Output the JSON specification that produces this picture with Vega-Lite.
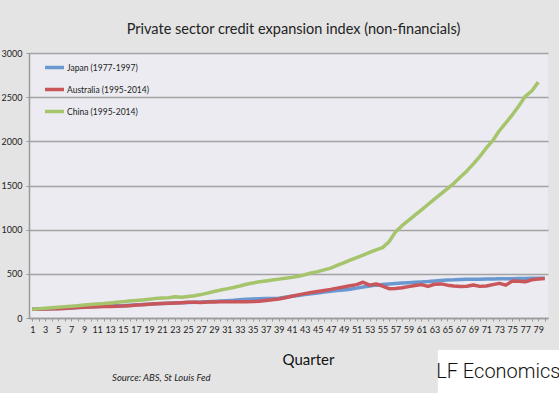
{
  "$schema": "https://vega.github.io/schema/vega-lite/v6.json",
  "width": 519,
  "height": 265,
  "autosize": {"type": "none"},
  "padding": {"left": 29, "top": 53, "right": 11, "bottom": 75},
  "background": "#e4e4e4",
  "title": {"text": "Private sector credit expansion index (non-financials)", "font": "Lato", "fontSize": 14.5, "fontWeight": "normal", "color": "#222222", "anchor": "middle", "offset": 12, "dx": 5},
  "config": {"view": {"fill": "#ebebf1", "stroke": null}, "font": "Lato"},
  "layer": [
    {
      "data": {"values": [
        {"q":1,"J":100,"A":100,"C":100},{"q":2,"J":101,"A":100,"C":104},{"q":3,"J":103,"A":102,"C":110},{"q":4,"J":106,"A":104,"C":116},{"q":5,"J":108,"A":106,"C":122},
        {"q":6,"J":110,"A":108,"C":128},{"q":7,"J":114,"A":112,"C":134},{"q":8,"J":118,"A":118,"C":140},{"q":9,"J":122,"A":122,"C":146},{"q":10,"J":126,"A":125,"C":152},
        {"q":11,"J":129,"A":127,"C":158},{"q":12,"J":132,"A":129,"C":163},{"q":13,"J":135,"A":131,"C":170},{"q":14,"J":138,"A":133,"C":178},{"q":15,"J":140,"A":135,"C":185},
        {"q":16,"J":143,"A":140,"C":192},{"q":17,"J":147,"A":146,"C":199},{"q":18,"J":152,"A":150,"C":205},{"q":19,"J":157,"A":156,"C":212},{"q":20,"J":161,"A":161,"C":220},
        {"q":21,"J":164,"A":165,"C":226},{"q":22,"J":167,"A":168,"C":230},{"q":23,"J":170,"A":171,"C":240},{"q":24,"J":173,"A":174,"C":234},{"q":25,"J":176,"A":177,"C":244},
        {"q":26,"J":178,"A":179,"C":252},{"q":27,"J":180,"A":176,"C":265},{"q":28,"J":184,"A":180,"C":282},{"q":29,"J":188,"A":182,"C":300},{"q":30,"J":192,"A":183,"C":316},
        {"q":31,"J":196,"A":184,"C":330},{"q":32,"J":200,"A":185,"C":345},{"q":33,"J":208,"A":185,"C":362},{"q":34,"J":213,"A":185,"C":382},{"q":35,"J":216,"A":186,"C":396},
        {"q":36,"J":218,"A":190,"C":410},{"q":37,"J":220,"A":198,"C":420},{"q":38,"J":222,"A":206,"C":430},{"q":39,"J":225,"A":216,"C":440},{"q":40,"J":235,"A":230,"C":450},
        {"q":41,"J":245,"A":246,"C":460},{"q":42,"J":255,"A":262,"C":472},{"q":43,"J":265,"A":276,"C":490},{"q":44,"J":274,"A":288,"C":510},{"q":45,"J":284,"A":300,"C":525},
        {"q":46,"J":294,"A":312,"C":545},{"q":47,"J":304,"A":324,"C":565},{"q":48,"J":312,"A":338,"C":595},{"q":49,"J":318,"A":352,"C":625},{"q":50,"J":325,"A":365,"C":655},
        {"q":51,"J":338,"A":378,"C":683},{"q":52,"J":352,"A":405,"C":712},{"q":53,"J":362,"A":372,"C":742},{"q":54,"J":372,"A":385,"C":772},{"q":55,"J":378,"A":362,"C":797},
        {"q":56,"J":385,"A":332,"C":864},{"q":57,"J":390,"A":334,"C":975},{"q":58,"J":395,"A":342,"C":1045},{"q":59,"J":400,"A":355,"C":1105},{"q":60,"J":404,"A":368,"C":1165},
        {"q":61,"J":408,"A":378,"C":1225},{"q":62,"J":412,"A":358,"C":1285},{"q":63,"J":418,"A":382,"C":1345},{"q":64,"J":425,"A":386,"C":1405},{"q":65,"J":430,"A":372,"C":1465},
        {"q":66,"J":432,"A":363,"C":1525},{"q":67,"J":436,"A":356,"C":1595},{"q":68,"J":438,"A":360,"C":1665},{"q":69,"J":440,"A":374,"C":1745},{"q":70,"J":440,"A":358,"C":1830},
        {"q":71,"J":441,"A":362,"C":1925},{"q":72,"J":442,"A":378,"C":2010},{"q":73,"J":443,"A":392,"C":2120},{"q":74,"J":444,"A":372,"C":2210},{"q":75,"J":445,"A":418,"C":2300},
        {"q":76,"J":447,"A":416,"C":2400},{"q":77,"J":448,"A":410,"C":2510},{"q":78,"J":449,"A":432,"C":2570},{"q":79,"J":449,"A":440,"C":2670},{"q":80,"J":450,"A":448}
      ]},
      "transform": [
        {"fold": ["J", "A", "C"], "as": ["code", "value"]},
        {"lookup": "code", "from": {"data": {"values": [
          {"code": "J", "series": "Japan (1977-1997)"},
          {"code": "A", "series": "Australia (1995-2014)"},
          {"code": "C", "series": "China (1995-2014)"}
        ]}, "key": "code", "fields": ["series"]}}
      ],
      "mark": {"type": "line", "strokeWidth": 3.5, "strokeJoin": "round"},
      "encoding": {
        "x": {"field": "q", "type": "ordinal", "sort": "ascending",
          "scale": {"type": "point", "padding": 0.5},
          "axis": {"title": "Quarter", "titleFont": "Lato", "titleFontSize": 15, "titleFontWeight": "normal", "titleColor": "#111111",
            "titleX": 279, "titleY": 41, "titleBaseline": "middle", "titleAnchor": "middle", "titleAlign": "center",
            "labelAngle": 0, "labelExpr": "datum.value % 2 == 1 ? datum.label : ''", "labelFontSize": 9, "labelColor": "#222222",
            "labelOverlap": false, "labelPadding": 4, "tickSize": 3, "tickColor": "#999999", "domainColor": "#999999", "domainWidth": 1.5, "grid": false}},
        "y": {"field": "value", "type": "quantitative",
          "scale": {"domain": [0, 3000], "nice": false},
          "axis": {"title": null, "format": "d", "values": [0, 500, 1000, 1500, 2000, 2500, 3000], "grid": true, "gridColor": "#a3a3a3", "gridWidth": 1.5,
            "domainColor": "#9a9a9a", "domainWidth": 1.5, "tickColor": "#9a9a9a", "tickSize": 3, "labelPadding": 4,
            "labelFontSize": 9, "labelColor": "#222222"}},
        "color": {"field": "series", "type": "nominal",
          "scale": {"domain": ["Japan (1977-1997)", "Australia (1995-2014)", "China (1995-2014)"], "range": ["#6a98d0", "#c9565a", "#a6c46c"]},
          "legend": {"orient": "none", "legendX": 14, "legendY": 3, "title": null, "symbolType": "stroke", "symbolSize": 361,
            "symbolStrokeWidth": 3.5, "labelFontSize": 8.5, "labelFont": "Lato", "labelColor": "#222222", "rowPadding": 3, "labelOffset": 1, "padding": 0}},
        "order": {"field": "q", "type": "quantitative"}
      }
    },
    {
      "data": {"values": [{"note": "Source: ABS, St Louis Fed"}]},
      "mark": {"type": "text", "align": "left", "baseline": "middle", "font": "Lato", "fontSize": 9.5, "fontStyle": "italic", "color": "#222222", "dx": 2},
      "encoding": {
        "x": {"datum": 13, "type": "ordinal"},
        "y": {"datum": -679, "type": "quantitative"},
        "text": {"field": "note"}
      }
    },
    {
      "data": {"values": [{"logo": "LF Economics"}]},
      "mark": {"type": "rect", "color": "#ffffff", "width": 123},
      "encoding": {
        "x": {"datum": 73, "type": "ordinal"},
        "y": {"datum": -362, "type": "quantitative"},
        "y2": {"datum": -849}
      }
    },
    {
      "data": {"values": [{"logo": "LF Economics"}]},
      "mark": {"type": "text", "align": "center", "baseline": "middle", "font": "Roboto", "fontWeight": 300, "fontSize": 20, "color": "#111111", "dx": -1},
      "encoding": {
        "x": {"datum": 73, "type": "ordinal"},
        "y": {"datum": -611, "type": "quantitative"},
        "text": {"field": "logo"}
      }
    }
  ]
}
